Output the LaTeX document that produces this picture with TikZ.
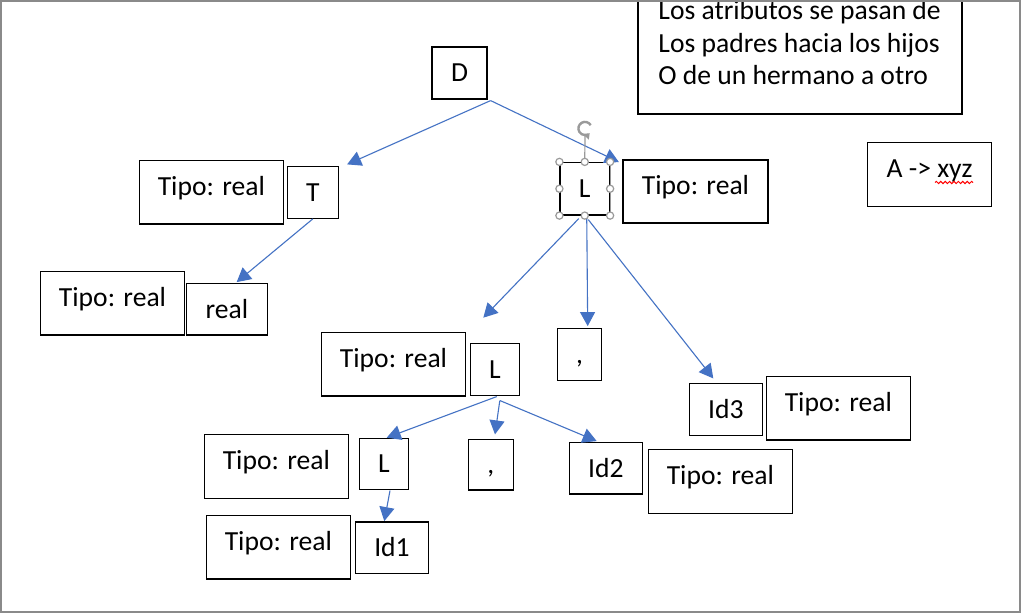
\documentclass[tikz,border=0pt]{standalone}
\usepackage{fontspec}
\setmainfont{Carlito}
\usetikzlibrary{arrows.meta,calc,decorations.pathmorphing}
\definecolor{arrowblue}{HTML}{4472C4}
\definecolor{hgray}{HTML}{9A9A9A}
\definecolor{framegray}{HTML}{8A8A8A}
\begin{document}
\begin{tikzpicture}[x=0.5pt,y=-0.5pt,
  every node/.style={font=\fontsize{13.8}{16.85}\selectfont},
  box/.style={draw=black, line width=0.6pt, inner sep=0pt, fill=white},
  tipo/.style={box, text height=6pt, text depth=2.7pt},
  sym/.style={box, text height=9.5pt, text depth=0.6pt},
  conn/.style={draw=arrowblue, line width=0.55pt, -{Triangle[length=7pt,width=7.5pt]}},
  handle/.style={circle, draw=hgray, fill=white, line width=0.6pt, minimum size=3.6pt, inner sep=0pt},
  txt/.style={anchor=base west, inner sep=0pt}
]
\useasboundingbox (0,0) rectangle (1022,613);
\fill[white] (0,0) rectangle (1022,613);
\clip (0,0) rectangle (1022,613);

% note box (top cut off)
\node[box, minimum width=162pt, minimum height=67pt] (note) at (800,47) {};
\node[txt] (n1) at (658,19.5) {Los atributos se pasan de};
\node[txt] (n2) at (658,52.3) {Los padres hacia los hijos};
\node[txt] (n3) at (658,85) {O de un hermano a otro};

\node[tipo, minimum width=62.2pt, minimum height=32.2pt] (A) at (929.5,174.5) {A -> xyz};
\draw[red, line width=0.5pt, decorate, decoration={snake, amplitude=0.55pt, segment length=2.2pt}] (935,182.5) -- (973,182.5);

% tree nodes
\node[sym, minimum width=27.5pt, minimum height=26pt] (D) at (459.5,73) {D};
\node[sym, minimum width=25.5pt, minimum height=25.8pt] (T) at (312.8,192.5) {T};
\node[tipo, minimum width=72pt, minimum height=31.65pt] (tT) at (211.3,192.35) {Tipo: real};
\node[sym, minimum width=24.75pt, minimum height=26.25pt] (Ltop) at (584.75,188.75) {L};
\node[tipo, minimum width=72.5pt, minimum height=31.5pt] (tLtop) at (695.5,191.5) {Tipo: real};
\node[sym, minimum width=40.5pt, minimum height=25.65pt] (real) at (226.8,309.35) {real};
\node[tipo, minimum width=71.8pt, minimum height=31.65pt] (treal) at (112.5,303.35) {Tipo: real};
\node[sym, minimum width=24.5pt, minimum height=26pt] (Lmid) at (494.8,369.3) {L};
\node[tipo, minimum width=71.8pt, minimum height=31.65pt] (tLmid) at (393.5,364.35) {Tipo: real};
\node[sym, minimum width=22.2pt, minimum height=26pt] (c1) at (579.5,354.3) {,};
\node[sym, minimum width=36.5pt, minimum height=26pt] (Id3) at (725.8,409.3) {Id3};
\node[tipo, minimum width=72pt, minimum height=31.65pt] (tId3) at (838.3,408.35) {Tipo: real};
\node[sym, minimum width=24.5pt, minimum height=25.5pt] (Llow) at (383.8,463.8) {L};
\node[tipo, minimum width=72pt, minimum height=32pt] (tLlow) at (276.3,466.3) {Tipo: real};
\node[sym, minimum width=22.5pt, minimum height=25.35pt] (c2) at (490.8,464.65) {,};
\node[sym, minimum width=36.5pt, minimum height=25.85pt] (Id2) at (605.8,468.15) {Id2};
\node[tipo, minimum width=72pt, minimum height=32pt] (tId2) at (720.3,481.3) {Tipo: real};
\node[sym, minimum width=36.7pt, minimum height=25.65pt] (Id1) at (392,547.65) {Id1};
\node[tipo, minimum width=72pt, minimum height=31.85pt] (tId1) at (278.3,547.15) {Tipo: real};

% connectors
\draw[conn] ($(D.south east)+(3,1)$) -- ($(T.north east)+(8.2,-1.7)$);
\draw[conn] ($(D.south east)+(3,1)$) -- ($(Ltop.north east)+(8.8,0.2)$);
\draw[conn] (T.south) -- ($(real.north)+(9.9,-1)$);
\draw[conn] ($(Ltop.south)+(-6,3)$) -- ($(Lmid.north)+(-11.5,-25)$);
\draw[conn] ($(Ltop.south)+(2,3)$) -- ($(c1.north)+(8.2,-1.6)$);
\draw[conn] ($(Ltop.south)+(3.5,4)$) -- ($(Id3.north)+(-12.5,-4.3)$);
\draw[conn] ($(Lmid.south)+(1.9,0.7)$) -- ($(Llow.north)+(2.9,0)$);
\draw[conn] ($(Lmid.south)+(5,4.7)$) -- ($(c2.north)+(4.2,-4.3)$);
\draw[conn] ($(Lmid.south)+(5.2,4.7)$) -- ($(Id2.north)+(-9.1,-0.6)$);
\draw[conn] ($(Llow.south)+(6.2,0.7)$) -- ($(Id1.north)+(-7.7,-0.3)$);

% selection handles on the top L
\draw[hgray, line width=0.6pt] (Ltop.north east) -- (Ltop.south east);
\coordinate (rot) at (585,128.5);
\draw[hgray, line width=0.6pt] (Ltop.north) -- (585,135);
\draw[hgray, line width=1.2pt, -{Triangle[length=2.6pt,width=3.8pt]}] (rot) ++(30:3.3pt) arc[start angle=30, end angle=315, radius=3.3pt];
\foreach \a [count=\i] in {north west,north,north east,west,east,south west,south,south east}
  \node[handle] (h\i) at (Ltop.\a) {};

% frame
\draw[framegray, line width=1pt] (1,1) rectangle (1020,612);
\end{tikzpicture}
\end{document}
